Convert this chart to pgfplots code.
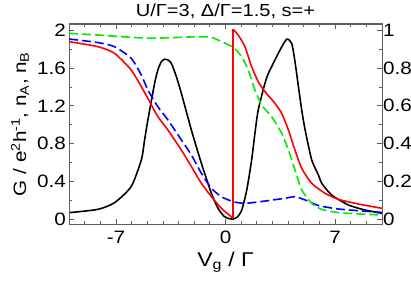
\documentclass[border=0pt]{standalone}
\usepackage{fontspec}
\setmainfont[FakeStretch=1.15]{Liberation Sans}
\usepackage{pgfplots}
\pgfplotsset{compat=1.18}
\definecolor{axgray}{RGB}{95,95,95}
\definecolor{mygreen}{RGB}{0,235,0}
\begin{document}
\begin{tikzpicture}
\pgfplotsset{
  common/.style={
    scale only axis, width=313bp, height=200bp,
    xmin=-10, xmax=10,
    tick align=inside,
    axis line style={axgray, line width=1pt},
    tick style={axgray, line width=0.8pt},
    major tick length=5bp, minor tick length=3bp,
    /pgf/number format/assume math mode=true,
    ticklabel style={font=\fontsize{18}{18}\selectfont, inner sep=1bp},
  }
}
\begin{axis}[common,
  ymin=-0.053, ymax=2.067,
  xtick={-7,0,7}, minor xtick={-10,...,10},
  ytick={0,0.4,0.8,1.2,1.6,2}, minor ytick={0.2,0.6,1.0,1.4,1.8},
  yticklabels={0,0.4,0.8,1.2,1.6,2},
  xtick pos=both, ytick pos=left,
  xticklabel pos=bottom,
  yticklabel style={xshift=-2bp},
  xticklabel style={yshift=-6bp},
  every axis x label/.style={at={(rel axis cs:0.5,0)}, yshift=-38bp, anchor=center,
     font=\fontsize{20}{20}\selectfont},
  every axis y label/.style={at={(rel axis cs:0,0.5)}, xshift=-49bp, rotate=90, anchor=center,
     font=\fontsize{18}{18}\selectfont},
  every axis title/.style={at={(rel axis cs:0.5,1)}, yshift=7bp, anchor=base,
     font=\fontsize{17.5}{17.5}\selectfont},
  xlabel={V\textsubscript{g} / Γ},
  ylabel={G / e\textsuperscript{2}h\textsuperscript{-1}, n\textsubscript{A}, n\textsubscript{B}},
  title={U/Γ=3, Δ/Γ=1.5, s=+},
]
\coordinate (sw) at (rel axis cs:0,0);
\coordinate (ne) at (rel axis cs:1,1);
% G (black)
\addplot[black, line width=1.6pt, smooth, tension=0.4] coordinates {
(-10,0.067) (-8.16,0.102) (-7.09,0.173) (-6.03,0.343) (-5.38,0.625) (-5.17,0.837)
(-4.96,1.049) (-4.53,1.438) (-4.32,1.58) (-4.10,1.668) (-3.89,1.693) (-3.68,1.686)
(-3.46,1.65) (-3.14,1.509) (-2.82,1.332) (-2.18,0.943) (-1.54,0.59) (-0.90,0.272)
(-0.50,0.12) (-0.10,0.03) (0.20,0.005) (0.49,0) (0.75,0.02) (1.03,0.09) (1.35,0.30) (1.67,0.625)
(1.88,0.908) (2.09,1.155) (2.52,1.438) (2.74,1.544) (2.95,1.615) (3.48,1.79)
(3.91,1.905) (4.23,1.862) (4.44,1.668) (4.66,1.403) (4.87,1.155) (5.09,0.943)
(5.51,0.625) (5.94,0.466) (6.15,0.378) (6.79,0.254) (7.86,0.148) (8.93,0.095) (10,0.06)
};
% red
\addplot[red, line width=1.6pt, smooth, tension=0.4] coordinates {
(-10,1.88) (-8.16,1.827) (-7.09,1.756) (-6.03,1.58) (-5.38,1.403) (-4.96,1.279)
(-4.32,1.085) (-3.68,0.943) (-2.82,0.731) (-2.18,0.555) (-1.54,0.378) (-0.90,0.237)
(-0.26,0.113) (0.49,0.007)
};
\addplot[red, line width=1.6pt] coordinates {(0.49,0.007) (0.49,2.01)};
\addplot[red, line width=1.6pt, smooth, tension=0.4] coordinates {
(0.49,2.01) (0.81,1.95) (1.24,1.827) (1.67,1.615) (2.09,1.456) (2.52,1.35)
(3.16,1.226) (3.59,1.12) (4.02,0.943) (4.44,0.731) (4.87,0.537) (5.51,0.378)
(6.37,0.272) (7.22,0.208) (8.50,0.159) (10,0.113)
};
\end{axis}
\begin{axis}[common,
  ymin=-0.0265, ymax=1.0335,
  xtick=\empty, minor xtick={},
  ytick pos=right, yticklabel pos=right,
  ytick={0,0.2,0.4,0.6,0.8,1}, minor ytick={0.1,0.3,0.5,0.7,0.9},
  yticklabels={0,0.2,0.4,0.6,0.8,1},
]
% n_A (blue dashed)
\addplot[blue, line width=1.6pt, dash pattern=on 9bp off 4bp, smooth, tension=0.4] coordinates {
(-10,0.954) (-8.16,0.935) (-7.09,0.913) (-6.03,0.852) (-5.38,0.763) (-4.96,0.684)
(-4.32,0.595) (-3.68,0.525) (-2.82,0.419) (-2.18,0.339) (-1.54,0.242) (-0.90,0.163)
(-0.26,0.118) (0.49,0.092) (1.24,0.083) (2.52,0.095) (3.80,0.110) (4.44,0.118)
(5.09,0.101) (5.94,0.071) (7.22,0.053) (8.50,0.044) (10,0.035)
};
% n_B (green dashed)
\addplot[mygreen, line width=1.6pt, dash pattern=on 9bp off 4bp, smooth, tension=0.4] coordinates {
(-10,0.984) (-8.16,0.975) (-6.03,0.963) (-4.74,0.958) (-3.46,0.961) (-1.75,0.966)
(-0.90,0.963) (-0.26,0.940) (0.49,0.910) (1.03,0.860) (1.45,0.790) (1.88,0.684)
(2.31,0.604) (2.95,0.542) (3.59,0.454) (4.02,0.366) (4.44,0.260) (4.87,0.154)
(5.51,0.083) (6.15,0.051) (7.22,0.034) (8.50,0.027) (10,0.021)
};
\end{axis}
\pgfresetboundingbox
\path[use as bounding box] ([shift={(-69bp,-60bp)}]sw) rectangle ([shift={(29bp,24bp)}]ne);
\end{tikzpicture}
\end{document}
